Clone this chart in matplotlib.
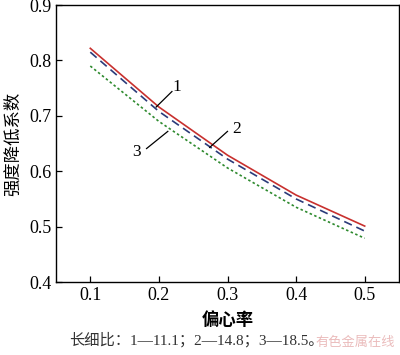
import numpy as np
import matplotlib
matplotlib.use('Agg')
import matplotlib.pyplot as plt

plt.rcParams['font.family'] = ['Liberation Serif', 'Noto Sans CJK SC']

e = [0.1, 0.2, 0.3, 0.4, 0.5]
k1 = [0.822, 0.716, 0.629, 0.557, 0.501]
k2 = [0.815, 0.708, 0.622, 0.550, 0.492]
k3 = [0.790, 0.690, 0.606, 0.535, 0.479]

fig = plt.figure(figsize=(4, 3.55), dpi=100)
ax = fig.add_axes([0.14, 0.2056, 0.8575, 0.78])

ax.plot(e, k1, color='#c8302e', lw=1.2, linestyle='-')
ax.plot(e, k2, color='#2b3b7a', lw=1.2, linestyle=(0, (5, 3)))
ax.plot(e, k3, color='#2e8a2e', lw=1.2, linestyle=(0, (1.5, 1.5)))

# 曲线编号及引线
ax.plot([0.196, 0.219], [0.716, 0.744], color='black', lw=0.9)
ax.text(0.226, 0.753, '1', fontsize=12.5, ha='center', va='center')
ax.plot([0.274, 0.300], [0.643, 0.672], color='black', lw=0.9)
ax.text(0.313, 0.676, '2', fontsize=12.5, ha='center', va='center')
ax.plot([0.182, 0.213], [0.641, 0.672], color='black', lw=0.9)
ax.text(0.168, 0.634, '3', fontsize=12.5, ha='center', va='center')

ax.set_xlim(0.05, 0.55)
ax.set_ylim(0.4, 0.9)
ax.set_xticks([0.1, 0.2, 0.3, 0.4, 0.5])
ax.set_yticks([0.4, 0.5, 0.6, 0.7, 0.8, 0.9])
ax.set_xticklabels(['0.1', '0.2', '0.3', '0.4', '0.5'])
ax.set_yticklabels(['0.4', '0.5', '0.6', '0.7', '0.8', '0.9'])
ax.tick_params(direction='in', length=4, width=0.9, labelsize=13)
for s in ax.spines.values():
    s.set_linewidth(1.0)

ax.set_xlabel('偏心率', fontsize=12.5, family='Noto Sans CJK SC',
              weight='bold', labelpad=5)
ax.set_ylabel('强度降低系数', fontsize=12.5, family='Noto Sans CJK SC', labelpad=5)

fig.text(0.49, 0.042, '长细比：1—11.1；2—14.8；3—18.5。', fontsize=11,
         ha='center', va='center', color='#333333',
         family=['Liberation Serif', 'Noto Sans CJK SC'])
fig.text(0.988, 0.035, '有色金属在线', fontsize=9.5, ha='right', va='center',
         color='#ebbcbc', family='Noto Sans CJK SC')

fig.savefig('out.png', dpi=100)
